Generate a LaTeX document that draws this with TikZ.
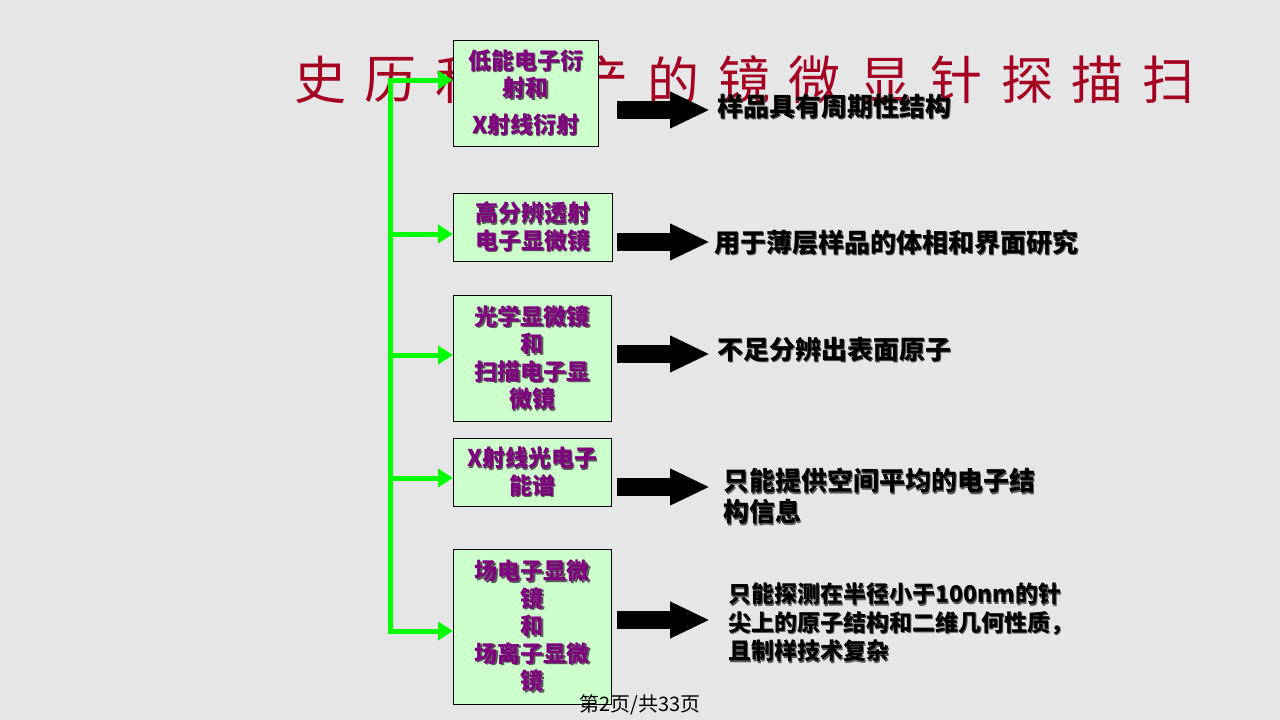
\documentclass[tikz,border=0pt]{standalone}
\usepackage{fontspec}
\setmainfont{Noto Sans CJK SC}
\usetikzlibrary{arrows.meta}
\definecolor{bg}{HTML}{E6E6E6}
\definecolor{boxfill}{HTML}{CCFFCC}
\definecolor{boxtxt}{HTML}{800080}
\definecolor{titlered}{HTML}{A50021}
\definecolor{gline}{HTML}{00FF00}
\definecolor{shd}{HTML}{5A5A5A}
\newcommand\sh[1]{\makebox[0pt][l]{\hspace{1.5pt}\raisebox{-1.5pt}{\textcolor{shd}{#1}}}#1}
\tikzset{
  titlechar/.style={text=titlered, font=\fontsize{52}{56}\selectfont, inner sep=0pt},
  box/.style={draw=black, line width=0.8pt, fill=boxfill, anchor=north west, inner sep=0pt,
    align=center, text=boxtxt, font=\bfseries\fontsize{23}{27.5}\selectfont},
  trunk/.style={draw=gline, line width=5pt, line cap=rect},
  garrow/.style={draw=gline, line width=5pt, -{Triangle[length=15pt,width=18pt]}},
  bigarrow/.style={draw=black, line width=18pt, -{Triangle[length=40pt,width=34pt]}},
  rtext/.style={anchor=west, align=left, inner sep=0pt, text=black,
    font=\bfseries\fontsize{26}{31}\selectfont},
  rtextsmall/.style={rtext, font=\bfseries\fontsize{23}{28.5}\selectfont},
  footer/.style={text=black, font=\fontsize{20}{24}\selectfont, inner sep=0pt}
}
\begin{document}
\begin{tikzpicture}[x=1pt,y=-1pt]
\fill[bg] (0,0) rectangle (1280,720);
\useasboundingbox (0,0) rectangle (1280,720);

% title (drawn first, partly hidden by the first box)
\foreach \c [count=\i from 0] in {史,历,和,生,产,的,镜,微,显,针,探,描,扫}
  \node[titlechar] (title-\i) at (320+70.7*\i, 80) {\c};

% boxes
\node[box, minimum width=145, minimum height=106] (b1) at (453,40)
  {\sh{低能电子衍}\\\sh{射和}\\[9pt]\sh{X射线衍射}};
\node[box, minimum width=159, minimum height=68] (b2) at (453,193)
  {\sh{高分辨透射}\\\sh{电子显微镜}};
\node[box, minimum width=158, minimum height=126] (b3) at (453,295)
  {\sh{光学显微镜}\\\sh{和}\\\sh{扫描电子显}\\\sh{微镜}};
\node[box, minimum width=158, minimum height=68] (b4) at (453,438)
  {\sh{X射线光电子}\\\sh{能谱}};
\node[box, minimum width=158, minimum height=155] (b5) at (453,549)
  {\sh{场电子显微}\\\sh{镜}\\\sh{和}\\\sh{场离子显微}\\\sh{镜}};

% green trunk and branches
\coordinate (g1) at (390,80);
\coordinate (g2) at (390,234);
\coordinate (g3) at (390,355);
\coordinate (g4) at (390,478);
\coordinate (g5) at (390,631);
\draw[trunk] (g1) -- (g5);
\draw[garrow] (g1) -- (b1.west |- g1);
\draw[garrow] (g2) -- (b2.west |- g2);
\draw[garrow] (g3) -- (b3.west |- g3);
\draw[garrow] (g4) -- (b4.west |- g4);
\draw[garrow] (g5) -- (b5.west |- g5);

% right-hand texts
\node[rtext] (r1) at (717,107) {\sh{样品具有周期性结构}};
\node[rtext] (r2) at (714,243) {\sh{用于薄层样品的体相和界面研究}};
\node[rtext] (r3) at (717,350) {\sh{不足分辨出表面原子}};
\node[rtext] (r4) at (723,497) {\sh{只能提供空间平均的电子结}\\\sh{构信息}};
\node[rtextsmall] (r5) at (728,623) {\sh{只能探测在半径小于100nm的针}\\\sh{尖上的原子结构和二维几何性质，}\\\sh{且制样技术复杂}};

% black block arrows
\coordinate (a1s) at (617,110); \coordinate (a1e) at (710,110);
\coordinate (a2s) at (617,242); \coordinate (a2e) at (710,242);
\coordinate (a3s) at (617,354); \coordinate (a3e) at (710,354);
\coordinate (a4s) at (617,487); \coordinate (a4e) at (710,487);
\coordinate (a5s) at (617,620); \coordinate (a5e) at (710,620);
\draw[bigarrow] (a1s) -- (a1e);
\draw[bigarrow] (a2s) -- (a2e);
\draw[bigarrow] (a3s) -- (a3e);
\draw[bigarrow] (a4s) -- (a4e);
\draw[bigarrow] (a5s) -- (a5e);

% footer
\node[footer] (foot) at (640,705) {第2页/共33页};
\end{tikzpicture}
\end{document}
